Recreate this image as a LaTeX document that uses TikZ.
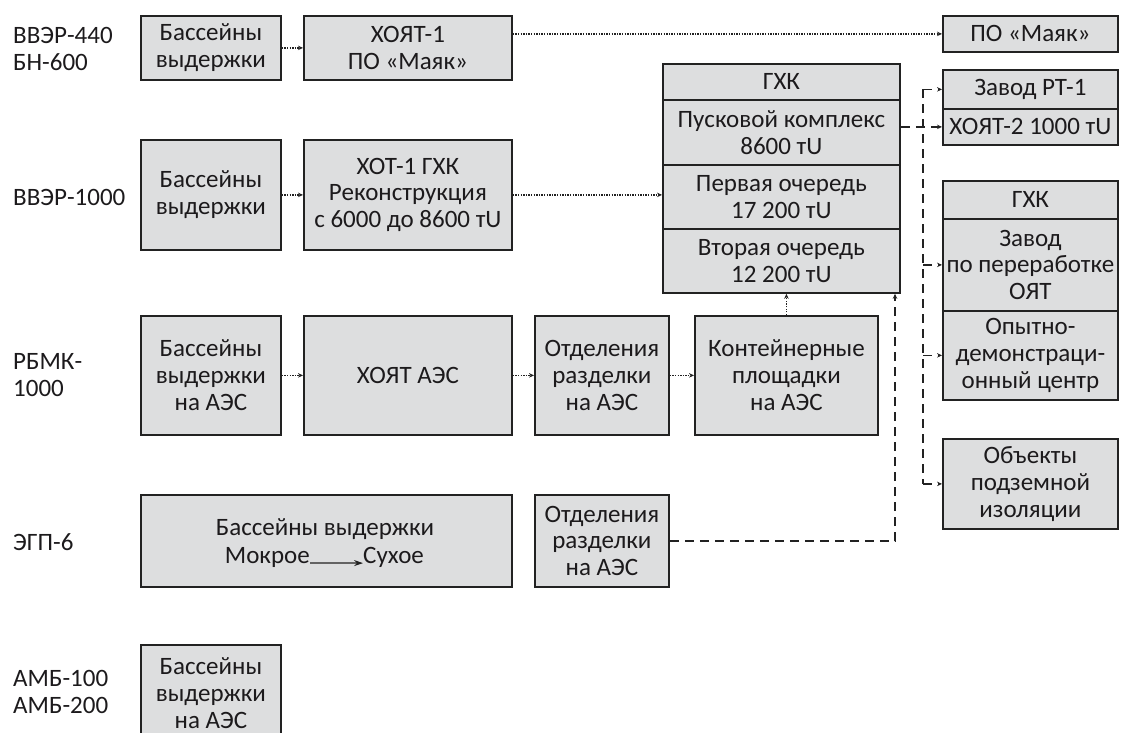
\documentclass[tikz,border=0pt]{standalone}
\usepackage{fontspec}
\setmainfont{Carlito}
\usetikzlibrary{arrows.meta}
\definecolor{boxfill}{RGB}{221,222,223}
\definecolor{boxline}{RGB}{34,34,34}
\definecolor{ink}{RGB}{28,26,28}

\begin{document}
\begin{tikzpicture}[x=1pt,y=-1pt,
  every node/.style={font=\fontsize{25}{26.8}\selectfont, text=ink},
  box/.style={draw=boxline, fill=boxfill, line width=1.8pt, align=center,
    inner sep=0pt, anchor=north west},
  lbl/.style={anchor=west, align=left, inner sep=0pt},
  tip/.style={-{Stealth[length=5pt,width=4.5pt]}},
  dots/.style={draw=boxline, line width=1.3pt, dash pattern=on 1.3pt off 1.3pt, tip},
  dsh/.style={draw=boxline, line width=1.6pt, dash pattern=on 9pt off 6pt, tip},
  dshline/.style={draw=boxline, line width=1.6pt, dash pattern=on 9pt off 6pt},
]
\useasboundingbox (0,0) rectangle (1121,733);

% reactor types
\node[lbl] (l1) at (13,49)  {ВВЭР-440\\БН-600};
\node[lbl] (l2) at (13,197) {ВВЭР-1000};
\node[lbl] (l3) at (13,375) {РБМК-\\1000};
\node[lbl] (l4) at (13,542) {ЭГП-6};
\node[lbl] (l5) at (13,692) {АМБ-100\\АМБ-200};

% row 1
\node[box, minimum width=140, minimum height=64] (b1) at (140,15) {Бассейны\\выдержки};
\node[box, minimum width=208, minimum height=64] (x1) at (303,15) {ХОЯТ-1\\ПО «Маяк»};
% row 2
\node[box, minimum width=140, minimum height=110] (b2) at (140,139) {Бассейны\\выдержки};
\node[box, minimum width=208, minimum height=110] (x2) at (303,139) {ХОТ-1 ГХК\\Реконструкция\\с 6000 до 8600 тU};
% row 3
\node[box, minimum width=140, minimum height=119] (b3) at (140,315) {Бассейны\\выдержки\\на АЭС};
\node[box, minimum width=208, minimum height=119] (xa) at (303,315) {ХОЯТ АЭС};
\node[box, minimum width=134, minimum height=119] (od1) at (534,315) {Отделения\\разделки\\на АЭС};
\node[box, minimum width=183, minimum height=119] (kont) at (694,315) {Контейнерные\\площадки\\на АЭС};
% row 4
\node[box, minimum width=371, minimum height=92] (egp) at (140,494) {};
\node[inner sep=0pt] (egpt) at (325,529) {Бассейны выдержки};
\node[inner sep=0pt, anchor=east] (wet) at (310,557) {Мокрое};
\node[inner sep=0pt, anchor=west] (dry) at (363,557) {Сухое};
\draw[boxline, line width=1.2pt, -{Stealth[length=9pt,width=6pt]}] (wet.base east) -- (dry.base west);
\node[box, minimum width=134, minimum height=92] (od2) at (534,494) {Отделения\\разделки\\на АЭС};
% row 5
\node[box, minimum width=140, minimum height=96] (b5) at (140,644) {Бассейны\\выдержки\\на АЭС};

% central storage stack
\node[box, minimum width=237, minimum height=36] (g1) at (662,63)  {ГХК};
\node[box, minimum width=237, minimum height=65] (g2) at (662,99)  {Пусковой комплекс\\8600 тU};
\node[box, minimum width=237, minimum height=64] (g3) at (662,164) {Первая очередь\\17 200 тU};
\node[box, minimum width=237, minimum height=64] (g4) at (662,228) {Вторая очередь\\12 200 тU};

% right column
\node[box, minimum width=175, minimum height=36] (mayak) at (942,15) {ПО «Маяк»};
\node[box, minimum width=175, minimum height=39] (rt1) at (942,69) {Завод РТ-1};
\node[box, minimum width=175, minimum height=36] (h2) at (942,108) {ХОЯТ-2 1000 тU};
\node[box, minimum width=175, minimum height=38] (r1) at (942,180) {ГХК};
\node[box, minimum width=175, minimum height=92] (r2) at (942,218) {Завод\\по переработке\\ОЯТ};
\node[box, minimum width=175, minimum height=89] (r3) at (942,310) {Опытно-\\демонстраци-\\онный центр};
\node[box, minimum width=175, minimum height=90] (obj) at (942,438) {Объекты\\подземной\\изоляции};

% dotted transport links
\draw[dots] (b1.east) -- (x1.west);
\draw[dots] (x1.east |- mayak.west) -- (mayak.west);
\draw[dots] (b2.east) -- (x2.west);
\draw[dots] (x2.east) -- (x2.east -| g3.west);
\draw[dots] (b3.east) -- (xa.west);
\draw[dots] (xa.east) -- (od1.west);
\draw[dots] (od1.east) -- (kont.west);
\draw[dots] (kont.north) -- (kont.north |- g4.south);

% dashed links
\coordinate (cx) at (895,0);
\coordinate (tx) at (923,0);
\draw[dsh] (od2.east) -| (cx |- g4.south);
\draw[dshline] (tx |- rt1.west) -- (tx |- obj.west);
\draw[dsh] (g2.east |- h2.west) -- (h2.west);
\draw[dsh] (tx |- rt1.west) -- (rt1.west);
\draw[dsh] (tx |- r2.west) -- (r2.west);
\draw[dsh] (tx |- r3.west) -- (r3.west);
\draw[dsh] (tx |- obj.west) -- (obj.west);
\end{tikzpicture}
\end{document}
